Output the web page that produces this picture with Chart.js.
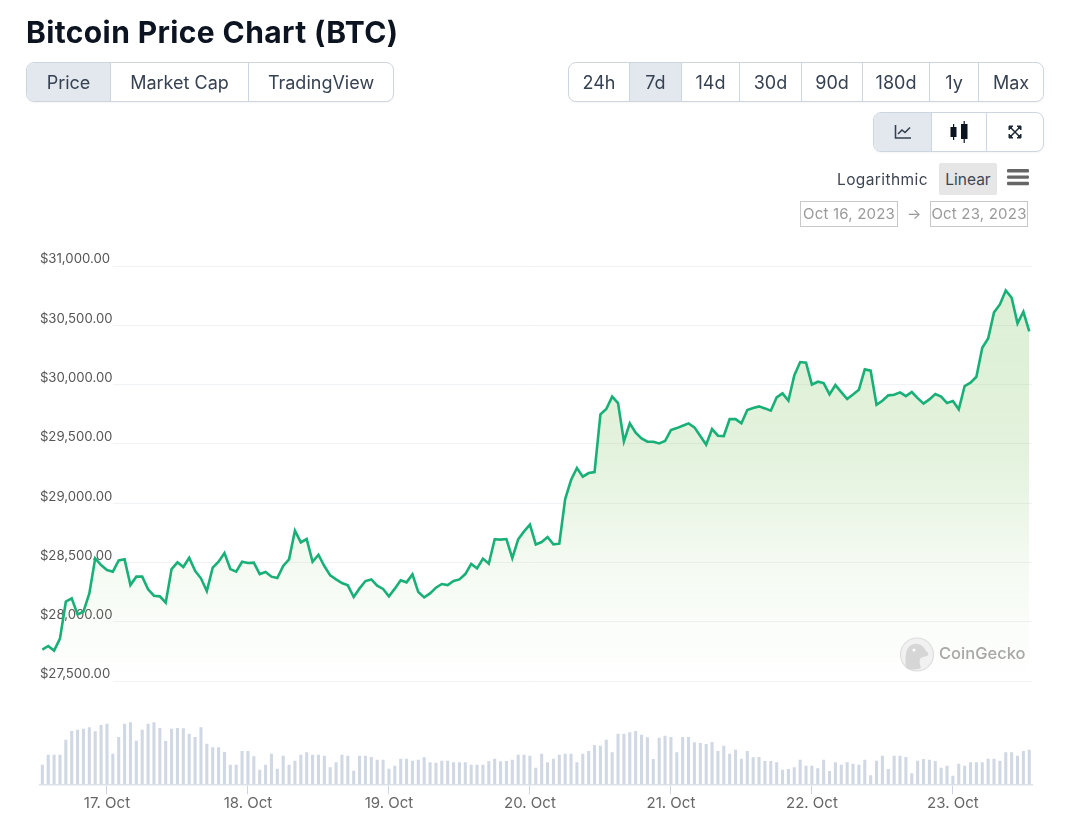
<!DOCTYPE html>
<html><head><meta charset="utf-8"><title>Bitcoin Price Chart (BTC)</title>
<script src="https://cdn.jsdelivr.net/npm/chart.js@4"></script>
<style>
html,body{margin:0;padding:0;background:#fff;width:1065px;height:832px;overflow:hidden;font-family:Inter,sans-serif}
#c{position:absolute;left:0;top:0;width:1065px;height:832px}
.a{position:absolute;white-space:nowrap}
h1{position:absolute;left:26px;top:13px;margin:0;font:700 30px/38px Inter,sans-serif;color:#0d1421;white-space:nowrap;letter-spacing:.38px}
.grp{position:absolute;display:flex;height:38px;border:1px solid #cdd5df;border-radius:8px;overflow:hidden;background:#fff;box-shadow:0 1px 2px rgba(16,24,40,.04)}
.grp div{display:flex;align-items:center;justify-content:center;box-sizing:border-box;border-right:1px solid #cdd5df;font:400 18px Inter,sans-serif;color:#364152;height:100%}
.grp div:last-child{border-right:none}
.grp .on{background:#e3e8ef}
.date{position:absolute;box-sizing:border-box;border:1px solid #c8c8c8;height:26px;top:201px;font:400 15px/24px Inter,sans-serif;color:#9a9a9a;text-align:center;letter-spacing:.2px}
</style></head><body>
<canvas id="c" width="1065" height="832"></canvas>
<h1>Bitcoin Price Chart (BTC)</h1>
<div class="grp" style="left:26px;top:62px;width:366px">
 <div class="on" style="width:84px">Price</div><div style="width:138px">Market Cap</div><div style="flex:1">TradingView</div>
</div>
<div class="grp" style="left:568px;top:62px;width:474px">
 <div style="width:61px">24h</div><div class="on" style="width:52px">7d</div><div style="width:58px">14d</div><div style="width:62px">30d</div><div style="width:61px">90d</div><div style="width:67px">180d</div><div style="width:49px">1y</div><div style="flex:1">Max</div>
</div>
<div class="grp" style="left:873px;top:112px;width:169px">
 <div class="on" style="width:58px"><svg width="18" height="16" viewBox="0 0 18 16"><path d="M1.5 1v13h15.5" fill="none" stroke="#364152" stroke-width="1.6"/><path d="M4 10l4-4 3 2.5 5-5" fill="none" stroke="#364152" stroke-width="1.6"/></svg></div>
 <div style="width:55px"><svg width="18" height="22" viewBox="0 0 18 22"><rect x="0.5" y="6" width="6" height="10" fill="#0d1421"/><rect x="3" y="3" width="1.2" height="16" fill="#0d1421"/><rect x="11" y="3" width="6.5" height="15" fill="#0d1421"/><rect x="13.6" y="0" width="1.2" height="22" fill="#0d1421"/></svg></div>
 <div style="flex:1"><svg width="14" height="14" viewBox="0 0 14 14"><path d="M1 1h4L1 5zM13 1v4L9 1zM1 13V9l4 4zM13 13H9l4-4z" fill="#1f2937" stroke="#1f2937"/><path d="M3 3l8 8M11 3l-8 8" stroke="#1f2937" stroke-width="1.5"/></svg></div>
</div>
<div class="a" style="left:837px;top:170px;font:400 15.5px/19px Inter,sans-serif;color:#3d4552;letter-spacing:.4px">Logarithmic</div>
<div class="a" style="left:939px;top:163px;width:58px;height:32px;background:#e6e6e6;border-radius:2px;text-align:center;font:400 15.5px/33px Inter,sans-serif;color:#3d4552">Linear</div>
<svg class="a" style="left:1007px;top:169px" width="22" height="17" viewBox="0 0 22 17"><g fill="#666"><rect y="0" width="22" height="3.4" rx="1.2"/><rect y="6.4" width="22" height="3.4" rx="1.2"/><rect y="12.8" width="22" height="3.4" rx="1.2"/></g></svg>
<div class="date" style="left:800px;width:98px">Oct 16, 2023</div>
<div class="a" style="left:907px;top:204px;font:400 15px/20px Inter,sans-serif;color:#999">→</div>
<div class="date" style="left:930px;width:98px">Oct 23, 2023</div>
<svg class="a" style="left:899px;top:637px" width="36" height="35" viewBox="0 0 36 35"><circle cx="18" cy="17.5" r="16.5" fill="#f1f1f1" stroke="#dedede" stroke-width="1.2"/><path d="M7 31C6 20 6 9 15 7c6-1 10 3 12 7 3 2 3 4 1 5-3 1-6 1-7 3-1 3 0 6 1 9-5 2-11 2-15 0z" fill="#d6d6d6"/><circle cx="15" cy="13" r="1.6" fill="#fff"/></svg>
<div class="a" style="left:939px;top:643px;font:500 16.5px/20px Inter,sans-serif;color:#a8a8a8">CoinGecko</div>
<script>
const prices=[27764,27795,27756,27857,28169,28197,28062,28085,28239,28534,28478,28436,28422,28517,28526,28309,28380,28380,28273,28219,28214,28160,28444,28501,28461,28540,28430,28366,28259,28456,28506,28579,28444,28422,28506,28495,28498,28402,28419,28380,28368,28470,28526,28768,28669,28697,28506,28565,28470,28391,28357,28326,28307,28208,28281,28343,28357,28304,28276,28214,28279,28349,28332,28399,28250,28205,28239,28287,28318,28309,28343,28357,28402,28487,28450,28532,28489,28695,28692,28697,28537,28695,28762,28818,28652,28672,28714,28652,28658,29035,29195,29296,29223,29254,29262,29749,29794,29898,29844,29521,29673,29594,29546,29518,29518,29504,29524,29616,29633,29653,29673,29639,29566,29493,29625,29569,29566,29709,29709,29673,29785,29802,29816,29799,29780,29892,29926,29864,30077,30190,30184,29999,30024,30013,29917,29996,29937,29878,29917,29957,30128,30117,29830,29864,29909,29914,29934,29903,29937,29886,29839,29875,29920,29898,29844,29861,29791,29988,30016,30066,30311,30389,30609,30676,30794,30732,30516,30614,30448];
const volumes=[193,293,293,293,443,530,543,553,567,527,590,603,303,470,603,617,433,543,603,617,560,430,553,560,557,503,470,567,403,367,367,320,193,193,330,330,277,143,193,303,153,283,193,233,293,317,293,293,283,167,217,293,283,133,283,283,270,243,243,153,183,253,253,233,243,267,217,213,233,233,217,217,217,193,193,193,227,253,227,230,243,293,293,283,163,303,217,253,293,303,303,217,303,330,390,383,443,317,503,503,517,530,493,467,250,463,483,470,317,470,470,417,410,400,420,330,383,303,343,253,330,267,270,230,230,217,143,150,167,243,183,183,157,243,130,217,193,217,203,193,243,87,233,283,150,283,283,270,107,233,250,243,230,163,183,83,203,183,217,217,217,253,253,233,317,317,283,330,343];
const dayIndex=[11,35,59,83,107,131,155];
const dayLabels=['17. Oct','18. Oct','19. Oct','20. Oct','21. Oct','22. Oct','23. Oct'];
const priceMin=27500, priceMax=31000, priceStep=500, volumeMax=1033;
const hours=prices.map((_,i)=>i);

function areaFill(ctx){
  const ch=ctx.chart, s=ch.scales.y;
  if(!ch.chartArea||!s) return 'rgba(138,202,112,0)';
  const g=ch.ctx.createLinearGradient(0,s.top,0,s.bottom);
  g.addColorStop(0,'rgba(138,202,112,.30)');
  g.addColorStop(.45,'rgba(138,202,112,.24)');
  g.addColorStop(.72,'rgba(138,202,112,.09)');
  g.addColorStop(1,'rgba(138,202,112,.0)');
  return g;
}
function gridColor(ctx){
  const ch=ctx.chart, a=ch.chartArea;
  if(!a) return 'transparent';
  const g=ch.ctx.createLinearGradient(a.left,0,a.right,0);
  g.addColorStop(0,'rgba(240,243,245,0)');
  g.addColorStop(.074,'rgba(240,243,245,0)');
  g.addColorStop(.0741,'rgba(240,243,245,1)');
  g.addColorStop(1,'rgba(240,243,245,1)');
  return g;
}
function noPad(s){s.paddingTop=0;s.paddingBottom=0;s.paddingLeft=0;s.paddingRight=0;}

new Chart(document.getElementById('c'),{
  type:'line',
  data:{labels:hours,datasets:[
    {type:'line',label:'Price',data:prices,yAxisID:'y',borderColor:'#19b078',borderWidth:2.6,pointRadius:0,tension:0,fill:'start',backgroundColor:areaFill,borderJoinStyle:'miter',order:1},
    {type:'bar',label:'Volume',data:volumes,yAxisID:'y2',backgroundColor:'#d0d8e4',barThickness:2.4,order:2}
  ]},
  options:{
    responsive:false,animation:false,devicePixelRatio:1,
    layout:{padding:{left:38.4,right:32.8,top:266,bottom:0}},
    plugins:{legend:{display:false},tooltip:{enabled:false},title:{display:false}},
    scales:{
      x:{type:'category',offset:true,
        grid:{offset:false,drawOnChartArea:false,drawTicks:true,tickLength:10,color:'#ccd6e3',tickColor:'#ccd6e3'},
        border:{display:true,color:'#dde1e8',width:1.5},
        ticks:{autoSkip:false,maxRotation:0,padding:0,color:'#666',font:{family:'Inter',size:15},
          callback:(v,i)=>dayLabels[i]},
        afterBuildTicks:s=>{s.ticks=dayIndex.map(v=>({value:v}));},
        afterFit:s=>{s.height=47.7;noPad(s);}
      },
      y:{type:'linear',position:'left',stack:'all',stackWeight:415,weight:1,min:priceMin,max:priceMax,
        grid:{color:gridColor,drawTicks:false},border:{display:false},
        ticks:{mirror:true,padding:0.5,stepSize:priceStep,labelOffset:-6.5,color:'#555',font:{family:'Inter',size:13.2},
          callback:v=>'$'+v.toLocaleString('en-US',{minimumFractionDigits:2,maximumFractionDigits:2})},
        afterFit:noPad
      },
      y2:{type:'linear',position:'left',stack:'all',stackWeight:103.3,weight:0,min:0,max:volumeMax,
        grid:{display:false,drawTicks:false},border:{display:false},ticks:{display:false},
        afterFit:noPad
      }
    }
  }
});
</script>
</body></html>
